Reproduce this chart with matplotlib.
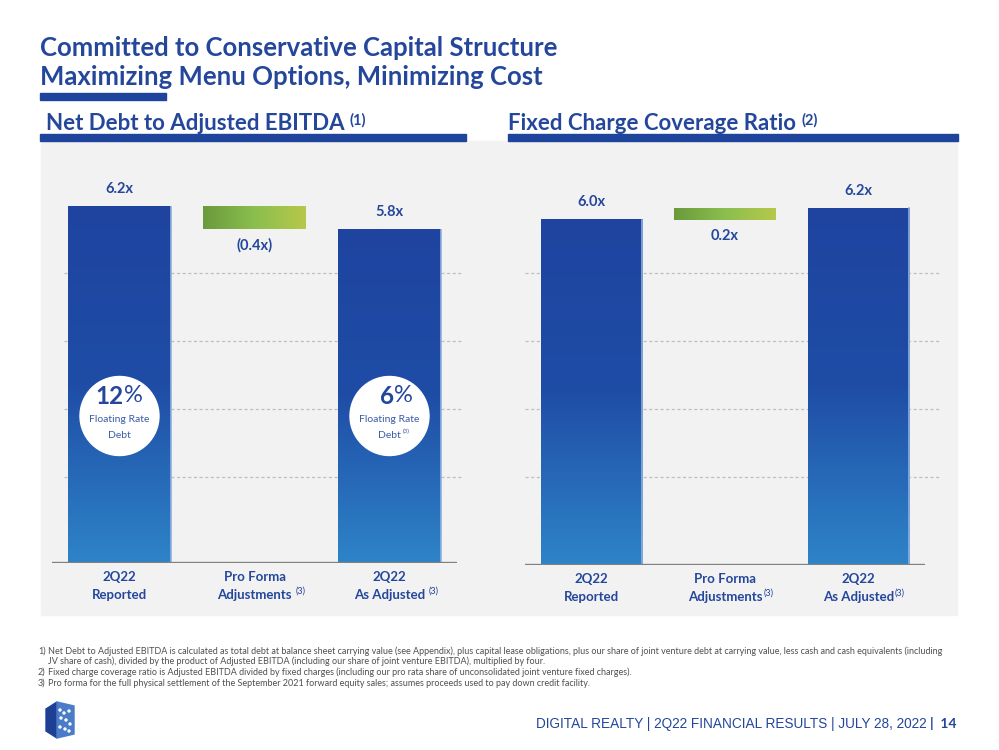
import numpy as np
import matplotlib
matplotlib.use("Agg")
import matplotlib.pyplot as plt
from matplotlib.colors import LinearSegmentedColormap
from matplotlib.patches import Rectangle, Ellipse, Polygon

# ---- data ----
categories = ["2Q22\nReported", "Pro Forma\nAdjustments", "2Q22\nAs Adjusted"]
debt_start = 6.2
debt_change = -0.4
debt_end = 5.8
fccr_start = 6.0
fccr_change = 0.2
fccr_end = 6.2
floating_rate = [12, 6]

# ---- style ----
BLUE = "#1F449B"
TXT = "#24479C"
GRAY_BG = "#F2F2F2"
FONT = "Lato"
W, H = 999, 750
PX_PER_UNIT = 57.5

plt.rcParams["font.family"] = [FONT, "DejaVu Sans"]

fig = plt.figure(figsize=(W / 100, H / 100), dpi=100)
fig.patch.set_facecolor("white")


def fx(x):
    return x / W


def fy(y):
    return 1 - y / H


renderer = fig.canvas.get_renderer()


def sup_after(t, s, size, dy=6, gap=2, **kw):
    # superscript placed right after a text object (pixel offsets)
    bb = t.get_window_extent(renderer)
    return fig.text(fx(bb.x1 + gap), (bb.y0 + dy) / H, s, fontsize=size,
                    va="baseline", ha="left", **kw)


# gray panel and underlines
fig.add_artist(Rectangle((fx(41), fy(615)), fx(957) - fx(41), fy(141) - fy(615),
                         transform=fig.transFigure, color=GRAY_BG, zorder=0))
for x0, x1, y0, y1 in [(40, 166, 100, 93), (40, 466, 141, 134), (508, 958, 141, 134)]:
    fig.add_artist(Rectangle((fx(x0), fy(y0)), fx(x1) - fx(x0), fy(y1) - fy(y0),
                             transform=fig.transFigure, color=BLUE, zorder=1))

# titles
fig.text(fx(40), fy(56), "Committed to Conservative Capital Structure", fontsize=18.5,
         fontweight="bold", color=TXT, va="baseline")
fig.text(fx(40), fy(85), "Maximizing Menu Options, Minimizing Cost", fontsize=18.5,
         fontweight="bold", color=TXT, va="baseline")
t1 = fig.text(fx(46), fy(130), "Net Debt to Adjusted EBITDA", fontsize=16,
              fontweight="bold", color=TXT, va="baseline")
sup_after(t1, "(1)", 10.5, dy=9, gap=5, color=TXT, fontweight="bold")
t2 = fig.text(fx(508), fy(130), "Fixed Charge Coverage Ratio", fontsize=16,
              fontweight="bold", color=TXT, va="baseline")
sup_after(t2, "(2)", 10.5, dy=9, gap=5, color=TXT, fontweight="bold")

blue_cmap = LinearSegmentedColormap.from_list("b", ["#2E84C8", "#1F4DA6", "#1E44A0"])
green_cmap = LinearSegmentedColormap.from_list("g", ["#6A9A3B", "#8BBE4F", "#B6C84A"])


def draw_chart(ax, start, change, end, sups, grid_vals, grid_span):
    ax.set_xlim(-0.5, 2.5)
    ax.set_ylim(0, 414 / PX_PER_UNIT)
    ax.axis("off")
    vals = [start, None, end]
    xs = np.arange(3)
    bw = 0.76
    vgrad = np.linspace(0, 1, 256).reshape(-1, 1)
    hgrad = np.linspace(0, 1, 256).reshape(1, -1)
    for gv in grid_vals:
        ax.axhline(gv, xmin=grid_span[0], xmax=grid_span[1], color="#BFBFBF", lw=0.9,
                   ls=(0, (2.5, 2)), zorder=1, clip_on=False)
    for i in (0, 2):
        v = vals[i]
        ax.imshow(vgrad, cmap=blue_cmap, origin="lower", aspect="auto",
                  extent=(xs[i] - bw / 2, xs[i] + bw / 2, 0, v), zorder=2)
        ax.plot([xs[i] + bw / 2] * 2, [0, v], color="#8FB0E0", lw=1.2, zorder=3)
        ax.text(xs[i], v + 0.31, f"{v:.1f}x", ha="center", va="center", fontsize=10.5,
                fontweight="bold", color=TXT)
    lo, hi = min(start, end), max(start, end)
    ax.imshow(hgrad, cmap=green_cmap, aspect="auto",
              extent=(xs[1] - bw / 2, xs[1] + bw / 2, lo, hi), zorder=2)
    lab = f"({abs(change):.1f}x)" if change < 0 else f"{change:.1f}x"
    ax.text(xs[1], lo - 0.28, lab, ha="center", va="center", fontsize=10.5,
            fontweight="bold", color=TXT)
    ax.axhline(0, color="#808080", lw=2.4, zorder=4)
    ax.set_xlim(-0.5, 2.5)
    ax.set_ylim(0, 414 / PX_PER_UNIT)
    for i, c in enumerate(categories):
        top, bottom = c.split("\n")
        ax.text(xs[i], -0.25, top, ha="center", va="center", fontsize=9.5,
                fontweight="bold", color=TXT)
        tb = ax.text(xs[i], -0.55, bottom, ha="center", va="center", fontsize=9.5,
                     fontweight="bold", color=TXT)
        if sups[i]:
            sup_after(tb, "(3)", 6.5, dy=7, gap=sups[i], color=TXT)


axL = fig.add_axes([fx(52), fy(563), 405 / W, 414 / H])
axL.patch.set_alpha(0)
grid_left = [(563 - y) / PX_PER_UNIT for y in (273, 341, 409, 477)]
draw_chart(axL, debt_start, debt_change, debt_end, [0, 4, 4], grid_left, (0.03, 1.01))

axR = fig.add_axes([fx(525), fy(565), 400 / W, 414 / H])
axR.patch.set_alpha(0)
grid_right = [(565 - y) / PX_PER_UNIT for y in (273, 341, 409, 477)]
draw_chart(axR, fccr_start, fccr_change, fccr_end, [0, 1, 1], grid_right, (0.0, 1.04))

# floating rate circles
cy = (563 - 416) / PX_PER_UNIT
for xi, pct, note in zip([0, 2], floating_rate, ["", "(3)"]):
    axL.add_patch(Ellipse((xi, cy), 79 / 135, 79 / PX_PER_UNIT, color="white", zorder=5))
    axL.text(xi + 0.03, cy + 20 / PX_PER_UNIT, str(pct), ha="right", va="center",
             fontsize=17.5, fontweight="bold", color=TXT, zorder=6)
    axL.text(xi + 0.03, cy + 20 / PX_PER_UNIT, "%", ha="left", va="center",
             fontsize=17, color=TXT, zorder=6)
    axL.text(xi, cy - 3 / PX_PER_UNIT, "Floating Rate", ha="center", va="center",
             fontsize=7.5, color="#3A5BA8", zorder=6)
    td = axL.text(xi, cy - 19 / PX_PER_UNIT, "Debt", ha="center", va="center",
                  fontsize=7.5, color="#3A5BA8", zorder=6)
    if note:
        sup_after(td, note, 4.5, dy=6, gap=2, color="#3A5BA8", zorder=6)

# footnotes
notes = [
    (38, 48, 654, "1)", "Net Debt to Adjusted EBITDA is calculated as total debt at balance sheet carrying value (see Appendix), plus capital lease obligations, plus our share of joint venture debt at carrying value, less cash and cash equivalents (including"),
    (38, 48, 664, "", "JV share of cash), divided by the product of Adjusted EBITDA (including our share of joint venture EBITDA), multiplied by four."),
    (38, 48, 675, "2)", "Fixed charge coverage ratio is Adjusted EBITDA divided by fixed charges (including our pro rata share of unconsolidated joint venture fixed charges)."),
    (38, 48, 686, "3)", "Pro forma for the full physical settlement of the September 2021 forward equity sales; assumes proceeds used to pay down credit facility."),
]
for xn, xt, y, n, s in notes:
    if n:
        fig.text(fx(xn), fy(y), n, fontsize=6.5, color="#505050", va="baseline")
    fig.text(fx(xt), fy(y), s, fontsize=6.5, color="#505050", va="baseline")

# footer
tp = fig.text(fx(957), fy(728), "|  14", fontsize=10, fontweight="bold", color=TXT,
              ha="right", va="baseline")
bb = tp.get_window_extent(renderer)
fig.text(fx(bb.x0 - 4), fy(728), "DIGITAL REALTY | 2Q22 FINANCIAL RESULTS | JULY 28, 2022",
         fontsize=9.8, color=TXT, ha="right", va="baseline",
         family=["Liberation Sans Narrow", "Liberation Sans", "DejaVu Sans"])

# logo
fig.add_artist(Polygon([(fx(46), fy(709)), (fx(57), fy(702)), (fx(57), fy(738)), (fx(46), fy(731))],
                       closed=True, transform=fig.transFigure, color="#1F3F95"))
fig.add_artist(Polygon([(fx(57), fy(702)), (fx(74), fy(706)), (fx(74), fy(734)), (fx(57), fy(738))],
                       closed=True, transform=fig.transFigure, color="#4A7CC8"))
for dx, dy in [(60, 710), (64, 713), (69, 711), (61, 718), (66, 720), (70, 724), (60, 727), (65, 729), (69, 731)]:
    fig.add_artist(Ellipse((fx(dx), fy(dy)), 2 / W, 2 / H, transform=fig.transFigure,
                           color="white"))

fig.savefig("out.png", dpi=100, facecolor="white")
